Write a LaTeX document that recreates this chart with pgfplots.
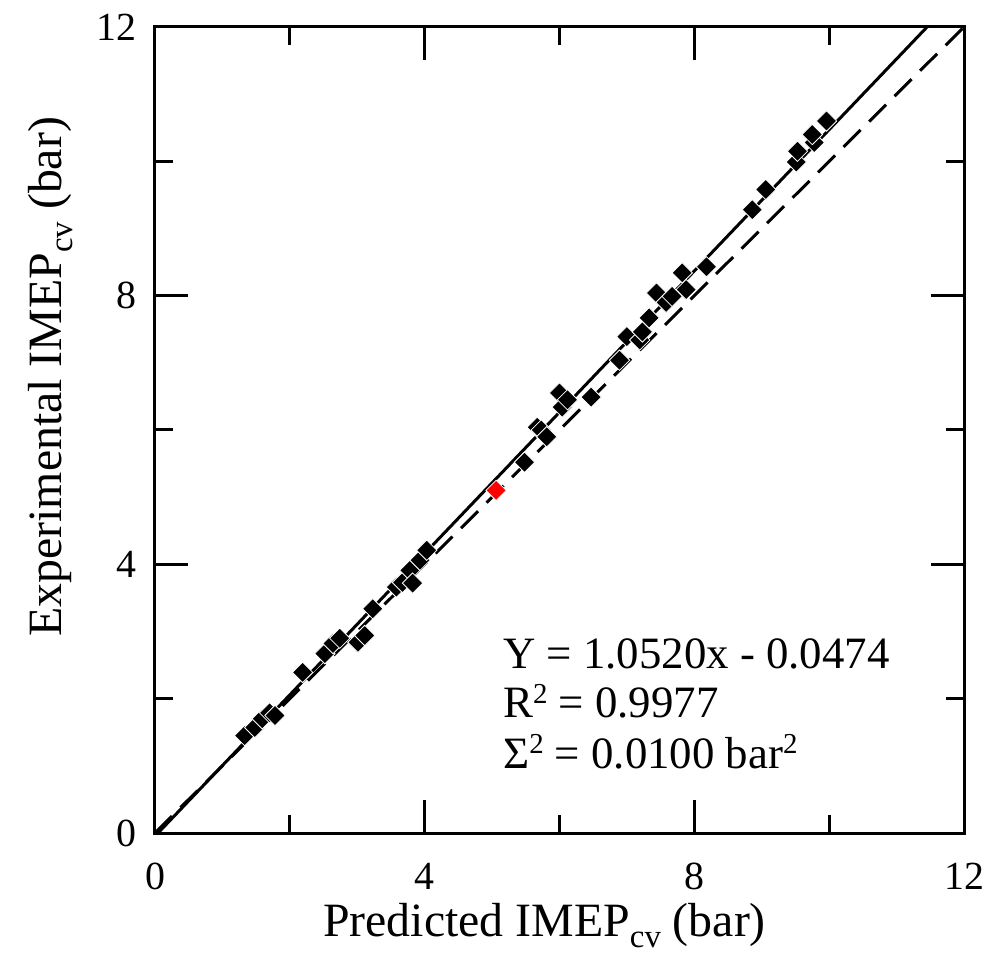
\documentclass[border=0pt]{standalone}
\usepackage{fontspec}
\setmainfont{Liberation Serif}
\usepackage{pgfplots}
\pgfplotsset{compat=1.18}
\newcommand{\sub}[1]{\raisebox{-0.22em}{\fontsize{33}{33}\selectfont #1}}
\newcommand{\sups}[1]{\raisebox{0.32em}{\fontsize{29}{29}\selectfont #1}}
\begin{document}
\begin{tikzpicture}
\begin{axis}[
  anchor=south west, at={(0,0)},
  scale only axis, width=809bp, height=806bp,
  xmin=0, xmax=12, ymin=0, ymax=12,
  xtick={0,4,8,12}, ytick={0,4,8,12},
  minor xtick={2,6,10}, minor ytick={2,6,10},
  major tick length=33bp, minor tick length=18bp,
  tick align=inside,
  tick style={line width=3bp, black},
  axis line style={line width=3bp},
  /pgf/number format/assume math mode=true,
  ticklabel style={font=\fontsize{40}{40}\selectfont},
  xticklabel style={anchor=north, inner sep=0pt, yshift=-30bp},
  yticklabel style={anchor=east, inner sep=0pt, xshift=-18bp},
  xlabel={Predicted IMEP\sub{cv} (bar)},
  ylabel={Experimental IMEP\sub{cv} (bar)},
  label style={font=\fontsize{48}{48}\selectfont},
  xlabel style={at={(axis description cs:0.4815,-0.129)}, anchor=base, inner sep=0pt},
  ylabel style={at={(axis description cs:-0.115,0.566)}, anchor=base, inner sep=0pt},
  clip=true,
]
\addplot[line width=3bp, dash pattern=on 24bp off 12bp] coordinates {(0,0) (12,12)};
\addplot[line width=3bp] coordinates {(0.0451,0) (11.452,12)};
\addplot[only marks, mark=square*, mark size=7.2bp,
  mark options={rotate=45, fill=black, draw=white, line width=0.8bp}] coordinates {
(1.33,1.45) (1.48,1.57) (1.59,1.70) (1.70,1.79) (1.78,1.75)
(2.19,2.39) (2.52,2.67) (2.64,2.82) (2.74,2.90) (3.01,2.84) (3.11,2.94)
(3.23,3.34) (3.58,3.66) (3.67,3.73) (3.78,3.91) (3.82,3.72) (3.93,4.06) (4.03,4.21)
(5.48,5.52) (5.67,6.04) (5.73,6.00) (5.81,5.90) (6.00,6.55) (6.04,6.34) (6.12,6.45)
(6.47,6.49) (6.89,7.04) (7.00,7.39) (7.19,7.34) (7.23,7.46) (7.33,7.67) (7.44,8.04)
(7.58,7.90) (7.67,7.99) (7.82,8.34) (7.88,8.09) (8.18,8.43) (8.86,9.28) (9.06,9.58)
(9.51,9.99) (9.53,10.15) (9.78,10.28) (9.75,10.40) (9.96,10.60)
};
\addplot[only marks, mark=square*, mark size=7.2bp,
  mark options={rotate=45, fill=red, draw=white, line width=0.8bp}] coordinates {(5.06,5.10)};
\node[anchor=base west, inner sep=0pt, font=\fontsize{45}{45}\selectfont] at (rel axis cs:0.4302,0.2047) {Y = 1.0520x - 0.0474};
\node[anchor=base west, inner sep=0pt, font=\fontsize{45}{45}\selectfont] at (rel axis cs:0.4302,0.1427) {R\sups{2} = 0.9977};
\node[anchor=base west, inner sep=0pt, font=\fontsize{45}{45}\selectfont] at (rel axis cs:0.4302,0.0806) {Σ\sups{2} = 0.0100 bar\sups{2}};
\end{axis}
\pgfresetboundingbox
\path (-155bp,-122bp) rectangle (834bp,833bp);
\end{tikzpicture}
\end{document}
